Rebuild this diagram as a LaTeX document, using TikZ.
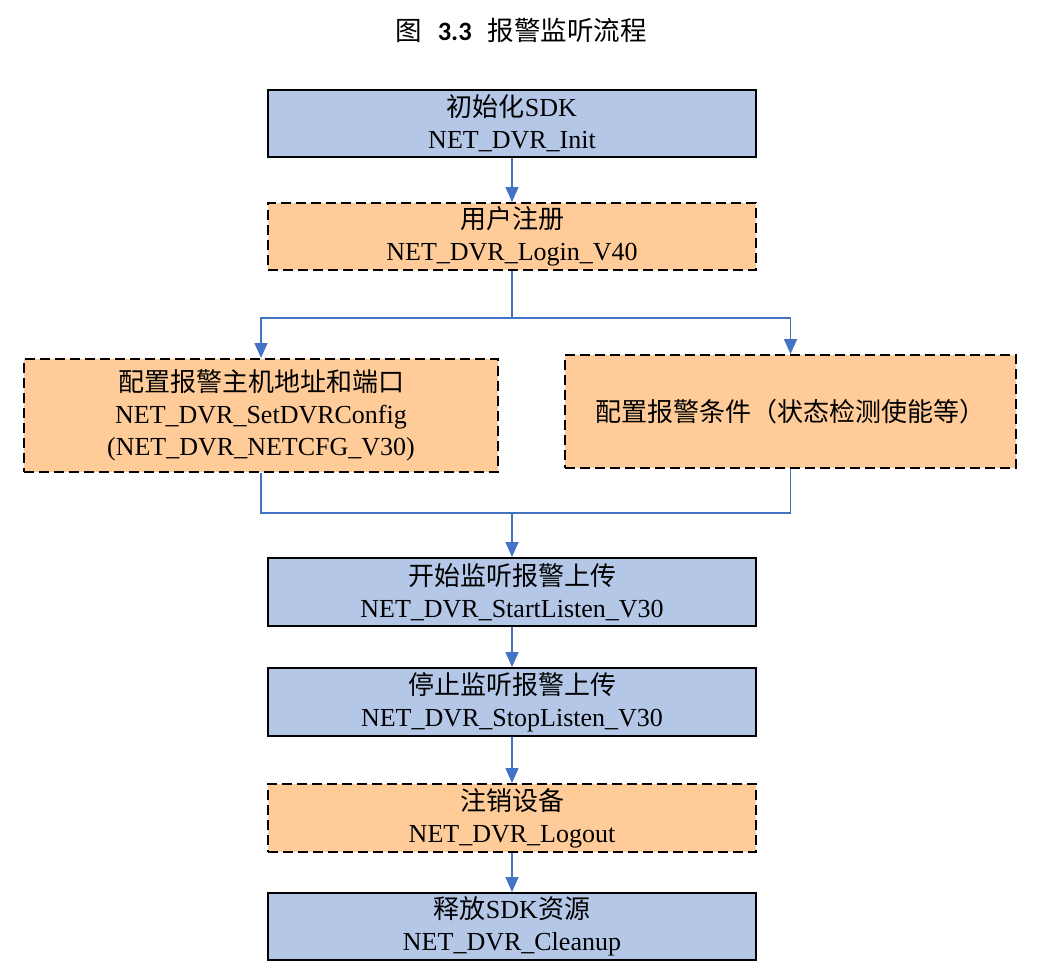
\documentclass[tikz,border=0pt]{standalone}
\usepackage{fontspec}
\setmainfont{Liberation Serif}
\newfontfamily\cjk{Noto Sans CJK SC}
\newfontfamily\titlenum{Carlito}
\newcommand\zh[1]{{\cjk #1}}
\usetikzlibrary{arrows.meta}
\definecolor{boxblue}{HTML}{B4C7E7}
\definecolor{boxorange}{HTML}{FFCC99}
\definecolor{linkblue}{HTML}{4472C4}
\tikzset{
  base/.style={draw=black, line width=2pt, inner sep=0pt, align=center,
    font=\fontsize{26}{32}\selectfont},
  bluebox/.style={base, fill=boxblue},
  orangebox/.style={base, fill=boxorange, dash pattern=on 10pt off 5pt},
  link/.style={draw=linkblue, line width=1.6pt},
  arr/.style={link, -{Triangle[width=13pt,length=15pt]}}
}
\begin{document}
\begin{tikzpicture}[x=1pt,y=-1pt]
\useasboundingbox (0,0) rectangle (1042,974);
\node[font=\fontsize{26.5}{30}\selectfont] (title) at (521,30)
  {\zh{图}\hspace{0.6em}{\titlenum\bfseries 3.3}\hspace{0.6em}\zh{报警监听流程}};
\node[bluebox, minimum width=488pt, minimum height=67pt] (b1) at (512,123.5)
  {\zh{初始化}SDK\\NET\_DVR\_Init};
\node[orangebox, minimum width=488pt, minimum height=67pt] (b2) at (512,236.5)
  {\zh{用户注册}\\NET\_DVR\_Login\_V40};
\node[orangebox, minimum width=474pt, minimum height=113pt] (L) at (261,415.5)
  {\zh{配置报警主机地址和端口}\\NET\_DVR\_SetDVRConfig\\(NET\_DVR\_NETCFG\_V30)};
\node[orangebox, minimum width=451pt, minimum height=113pt] (R) at (790.5,411.5)
  {\zh{配置报警条件（状态检测使能等）}};
\node[bluebox, minimum width=488pt, minimum height=68pt] (b3) at (512,592)
  {\zh{开始监听报警上传}\\NET\_DVR\_StartListen\_V30};
\node[bluebox, minimum width=488pt, minimum height=68pt] (b4) at (512,702)
  {\zh{停止监听报警上传}\\NET\_DVR\_StopListen\_V30};
\node[orangebox, minimum width=488pt, minimum height=68pt] (b5) at (512,818)
  {\zh{注销设备}\\NET\_DVR\_Logout};
\node[bluebox, minimum width=488pt, minimum height=67pt] (b6) at (512,926.5)
  {\zh{释放}SDK\zh{资源}\\NET\_DVR\_Cleanup};
\coordinate (split) at (512,318);
\coordinate (join) at (512,513);
\draw[arr] (b1.south) -- (b2.north);
\draw[link] (b2.south) -- (split);
\draw[arr] (split) -| (L.north);
\draw[arr] (split) -| (R.north);
\draw[link] (L.south) |- (join);
\draw[link] (R.south) |- (join);
\draw[arr] (join) -- (b3.north);
\draw[arr] (b3.south) -- (b4.north);
\draw[arr] (b4.south) -- (b5.north);
\draw[arr] (b5.south) -- (b6.north);
\end{tikzpicture}
\end{document}
